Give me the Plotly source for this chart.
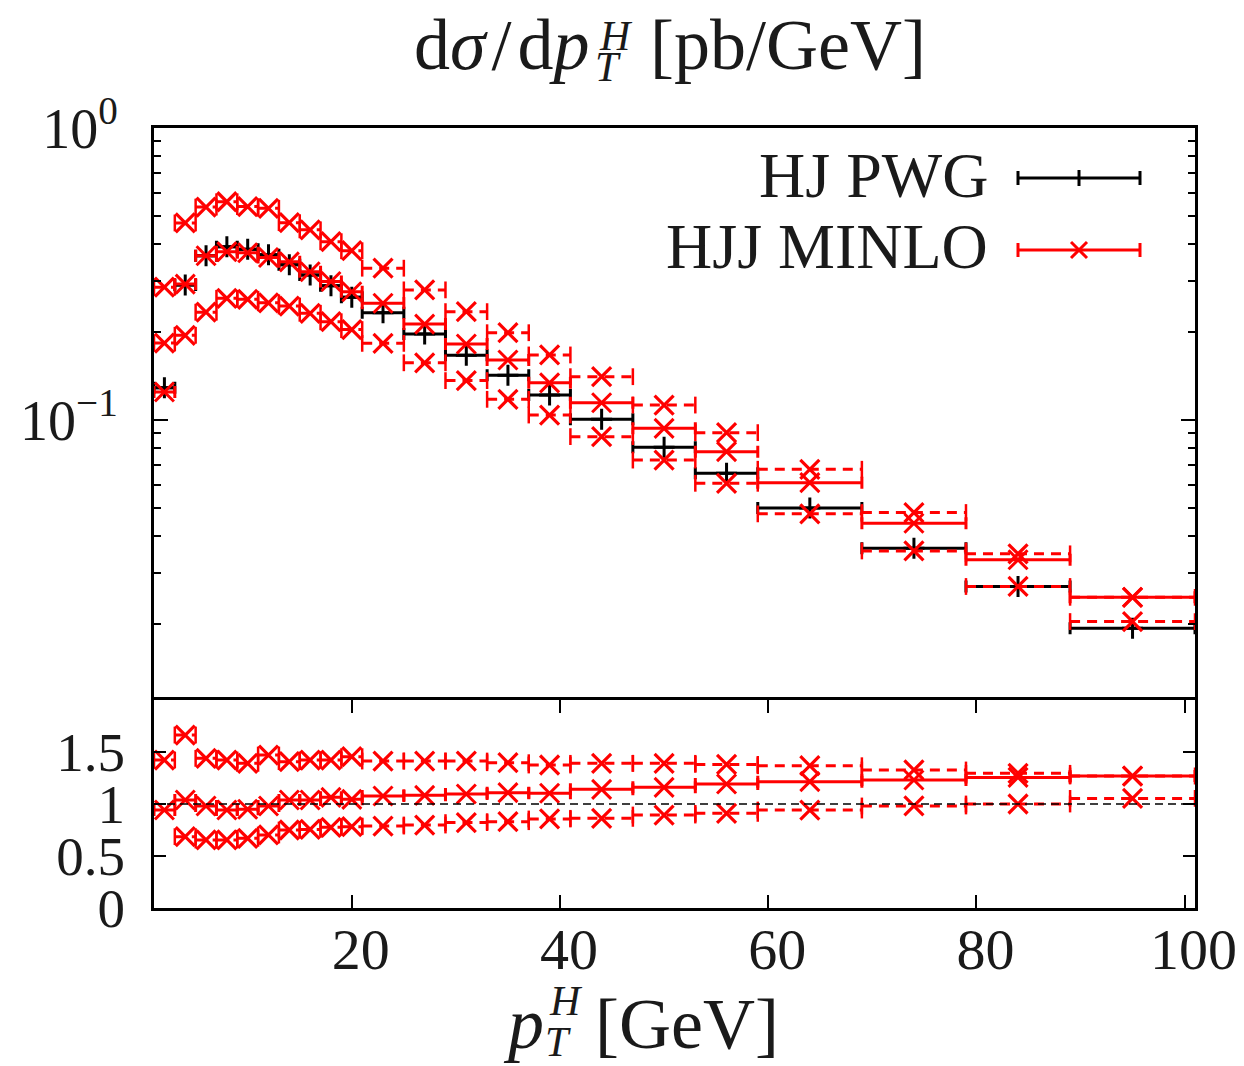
import plotly.graph_objects as go

# ---------------- data ----------------
bin_edges = [1, 3, 5, 7, 9, 11, 13, 15, 17, 19, 21, 25, 29, 33, 37, 41, 47, 53, 59, 69, 79, 89, 101]

hj_pwg = [0.129, 0.290, 0.365, 0.392, 0.384, 0.368, 0.340, 0.314, 0.288, 0.263,
          0.233, 0.197, 0.1665, 0.1422, 0.1218, 0.1005, 0.0806, 0.0657, 0.0500,
          0.0364, 0.0269, 0.01934]
minlo_central = [0.1247, 0.292, 0.365, 0.377, 0.374, 0.360, 0.348, 0.322, 0.298, 0.275,
                 0.251, 0.213, 0.182, 0.1605, 0.134, 0.1146, 0.0936, 0.0779, 0.0610,
                 0.0443, 0.0332, 0.0247]
minlo_up = [0.285, 0.473, 0.536, 0.559, 0.538, 0.531, 0.474, 0.448, 0.408, 0.380,
            0.331, 0.279, 0.235, 0.199, 0.167, 0.1407, 0.1125, 0.0905, 0.0678,
            0.0482, 0.0348, 0.0247]
minlo_down = [0.1835, 0.195, 0.234, 0.261, 0.259, 0.252, 0.2456, 0.232, 0.217, 0.204,
              0.183, 0.157, 0.1364, 0.1177, 0.104, 0.0877, 0.0729, 0.0607, 0.0477,
              0.0356, 0.0269, 0.0204]

ratio_central = [0.942, 1.038, 0.981, 0.942, 0.949, 0.981, 1.038, 1.038, 1.064, 1.045,
                 1.077, 1.083, 1.096, 1.109, 1.103, 1.141, 1.160, 1.192, 1.215,
                 1.231, 1.256, 1.269]
ratio_up = [2.2, 1.663, 1.439, 1.423, 1.391, 1.471, 1.407, 1.423, 1.423, 1.455,
            1.413, 1.413, 1.413, 1.397, 1.375, 1.391, 1.391, 1.381, 1.368,
            1.327, 1.295, 1.269]
ratio_down = [1.423, 0.686, 0.654, 0.654, 0.670, 0.702, 0.750, 0.756, 0.776, 0.782,
              0.788, 0.798, 0.821, 0.830, 0.856, 0.862, 0.894, 0.910, 0.942,
              0.981, 1.000, 1.054]

x_ticks = [20, 40, 60, 80, 100]
ratio_ticks = [0, 0.5, 1, 1.5]
ratio_ticktext = ["0", "0.5", "1", "1.5"]

# ---------------- derived bin geometry ----------------
centers = [(bin_edges[i] + bin_edges[i + 1]) / 2 for i in range(len(bin_edges) - 1)]
halfw = [(bin_edges[i + 1] - bin_edges[i]) / 2 for i in range(len(bin_edges) - 1)]

RED = "#ff0000"
BLACK = "#000000"
FONT = "Liberation Serif"
TXT = "#1a1a1a"

W, H = 1244, 1066
L, R, T, B = 154, 49, 128, 158
PW, PH = W - L - R, H - T - B


def xp(px):
    return (px - L) / PW


def yp(py):
    return (H - B - py) / PH


fig = go.Figure()


def solid(vals, xa, ya, color, symbol, msize):
    fig.add_trace(go.Scatter(
        x=centers, y=vals, xaxis=xa, yaxis=ya, mode="markers",
        marker=dict(symbol=symbol, size=msize, color=color,
                    line=dict(color=color, width=3)),
        error_x=dict(type="data", array=halfw, symmetric=True, color=color,
                     thickness=3, width=6),
        showlegend=False, hoverinfo="x+y"))


def dashed(vals, xa, ya, color):
    xs, ys, cx, cy = [], [], [], []
    for i, v in enumerate(vals):
        xs += [bin_edges[i], bin_edges[i + 1], None]
        ys += [v, v, None]
        cx += [bin_edges[i], bin_edges[i + 1]]
        cy += [v, v]
    fig.add_trace(go.Scatter(
        x=xs, y=ys, xaxis=xa, yaxis=ya, mode="lines",
        line=dict(color=color, width=3, dash="10px,7px"),
        showlegend=False, hoverinfo="skip"))
    fig.add_trace(go.Scatter(
        x=cx, y=cy, xaxis=xa, yaxis=ya, mode="markers",
        marker=dict(symbol="line-ns", size=12, color=color,
                    line=dict(color=color, width=2.5)),
        showlegend=False, hoverinfo="skip"))
    fig.add_trace(go.Scatter(
        x=centers, y=vals, xaxis=xa, yaxis=ya, mode="markers",
        marker=dict(symbol="x-thin", size=19, color=color,
                    line=dict(color=color, width=3.2)),
        showlegend=False, hoverinfo="x+y"))


# top panel
solid(hj_pwg, "x", "y", BLACK, "cross-thin", 15)
dashed(minlo_up, "x", "y", RED)
dashed(minlo_down, "x", "y", RED)
solid(minlo_central, "x", "y", RED, "x-thin", 19)

# ratio panel
dashed(ratio_up, "x2", "y2", RED)
dashed(ratio_down, "x2", "y2", RED)
solid(ratio_central, "x2", "y2", RED, "x-thin", 19)

split = (H - B - 700) / PH

base = dict(showline=True, linewidth=3, linecolor="black",
            showgrid=False, zeroline=False, automargin=False)

fig.update_layout(
    width=W, height=H,
    margin=dict(l=L, r=R, t=T, b=B),
    paper_bgcolor="white", plot_bgcolor="white",
    showlegend=False,
    font=dict(family=FONT, color=TXT),
    # top panel x axis: only the top frame line (the divider comes from the ratio axis)
    xaxis=dict(domain=[0, 1], anchor="y", range=[1, 101], matches="x2", side="top",
               showticklabels=False, ticks="", mirror=False, **base),
    yaxis=dict(domain=[split, 1], anchor="x", type="log", range=[-1.959, 0],
               tickvals=[0.1, 1], ticktext=["10<sup>\u22121</sup>", "10<sup>0</sup>"],
               ticks="inside", ticklen=14, tickwidth=2, tickcolor="black",
               tickfont=dict(family=FONT, size=56, color=TXT),
               ticklabelstandoff=22,
               minor=dict(tickvals=[0.02, 0.03, 0.04, 0.05, 0.06, 0.07, 0.08, 0.09,
                                    0.2, 0.3, 0.4, 0.5, 0.6, 0.7, 0.8, 0.9],
                          ticks="inside", ticklen=7, tickwidth=1.5, tickcolor="black"),
               mirror="allticks", **base),
    xaxis2=dict(domain=[0, 1], anchor="y2", range=[1, 101],
                tickvals=x_ticks, ticks="inside", ticklen=13, tickwidth=2, tickcolor="black",
                tickfont=dict(family=FONT, size=58, color=TXT),
                ticklabelshift=9, ticklabelstandoff=-12,
                mirror="ticks", **base),
    yaxis2=dict(domain=[0, split], anchor="x2", range=[0, 2],
                tickvals=ratio_ticks, ticktext=ratio_ticktext,
                ticks="inside", ticklen=12, tickwidth=2, tickcolor="black",
                tickfont=dict(family=FONT, size=55, color=TXT),
                ticklabelstandoff=15,
                mirror="ticks", **base),
)

# reference line at ratio = 1
fig.add_shape(type="line", xref="x2", yref="y2", x0=1, x1=101, y0=1, y1=1,
              line=dict(color="black", width=1.5, dash="8px,5px"))

# legend (text left of sample, as in the reference)
def pline(x0, y0, x1, y1, color, width=3):
    fig.add_shape(type="line", xref="paper", yref="paper",
                  x0=xp(x0), y0=yp(y0), x1=xp(x1), y1=yp(y1),
                  line=dict(color=color, width=width))

for yy, col in [(178, BLACK), (250, RED)]:
    pline(1018, yy, 1140, yy, col)
    pline(1018, yy - 7, 1018, yy + 7, col)
    pline(1140, yy - 7, 1140, yy + 7, col)
pline(1079, 170, 1079, 186, BLACK)
pline(1071, 242, 1087, 258, RED)
pline(1071, 258, 1087, 242, RED)

def ann(text, px, py, size, xanchor="left", yanchor="middle"):
    fig.add_annotation(text=text, xref="paper", yref="paper", x=xp(px), y=yp(py),
                       xanchor=xanchor, yanchor=yanchor, showarrow=False,
                       font=dict(family=FONT, size=size, color=TXT))

ann("HJ PWG", 990, 175, 64, xanchor="right")
ann("HJJ MINLO", 990, 246, 64, xanchor="right")

# title  d sigma / d p_T^H [pb/GeV]
ann("d<i>\u03c3</i>\u200a/\u200ad<i>p</i>", 592, 45, 72, xanchor="right")
ann("<i>H</i>", 597, 36, 42)
ann("<i>T</i>", 593, 67, 42)
ann("[pb/GeV]", 648, 45, 72)

# x axis title  p_T^H [GeV]
ann("<i>p</i>", 546, 1024, 72, xanchor="right")
ann("<i>H</i>", 547, 1001, 42)
ann("<i>T</i>", 543, 1042, 42)
ann("[GeV]", 593, 1024, 72)

fig.write_html("out.html", config={"displayModeBar": False},
               post_script="document.body.style.margin='0';document.body.style.overflow='hidden';")
